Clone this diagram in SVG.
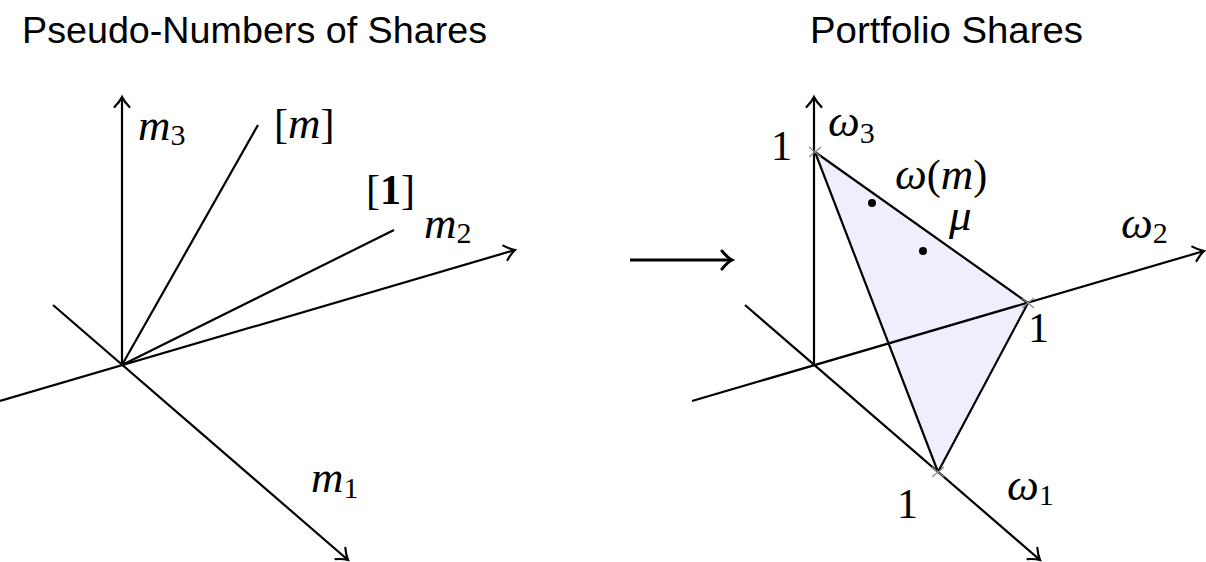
<svg xmlns="http://www.w3.org/2000/svg" width="1206" height="562" viewBox="0 0 1206 562">
<style>
.ax{stroke:#000;stroke-width:2.2;fill:none}
.ar{marker-end:url(#to)}
.title{font-family:"Liberation Sans",Arial,sans-serif;font-size:36px;fill:#000}
.mi{font-family:"Liberation Serif","Times New Roman",serif;font-style:italic;font-size:45px;fill:#000}
.mr{font-family:"Liberation Serif","Times New Roman",serif;font-size:42px;fill:#000}
.sub{font-family:"Liberation Serif","Times New Roman",serif;font-size:30px;fill:#000}
.tick{stroke:#888;stroke-width:1.2}
</style>
<defs>
<marker id="to" markerUnits="userSpaceOnUse" markerWidth="24" markerHeight="24" viewBox="-12 -12 24 24" refX="0" refY="0" orient="auto">
<path d="M-10,-7.5 C-5.5,-3 -2,-1 0,0 C-2,1 -5.5,3 -10,7.5" fill="none" stroke="#000" stroke-width="2.2" stroke-linecap="round"/>
</marker>
<marker id="to3" markerUnits="userSpaceOnUse" markerWidth="30" markerHeight="30" viewBox="-15 -15 30 30" refX="0" refY="0" orient="auto">
<path d="M-10,-9 C-6,-4 -2,-1 0,0 C-2,1 -6,4 -10,9" fill="none" stroke="#000" stroke-width="3" stroke-linecap="round"/>
</marker>
</defs>

<g id="title-left"><text class="title" x="22" y="43" textLength="465" lengthAdjust="spacingAndGlyphs">Pseudo-Numbers of Shares</text></g>
<g id="title-right"><text class="title" x="810" y="43" textLength="273" lengthAdjust="spacingAndGlyphs">Portfolio Shares</text></g>

<g id="connectors">
<line class="ax ar" x1="122" y1="365" x2="122" y2="97"/>
<line class="ax ar" x1="0" y1="401" x2="515" y2="250"/>
<line class="ax ar" x1="53" y1="305" x2="348" y2="560"/>
<line class="ax" x1="122" y1="365" x2="258" y2="125"/>
<line class="ax" x1="122" y1="365" x2="394" y2="230"/>
<line x1="630" y1="260" x2="732" y2="260" stroke="#000" stroke-width="3" marker-end="url(#to3)"/>
</g>

<g id="simplex">
<polygon points="815,152 1028,303 938,472" fill="#eeeefd" stroke="none"/>
</g>

<g id="right-axes">
<line class="ax ar" x1="814" y1="365" x2="814" y2="97"/>
<line class="ax ar" x1="692" y1="401" x2="1204" y2="251"/>
<line class="ax ar" x1="745" y1="305" x2="1040" y2="560"/>
</g>

<g id="simplex-edges">
<polygon points="815,152 1028,303 938,472" fill="none" stroke="#000" stroke-width="2.2" stroke-linejoin="round"/>
<path class="tick" d="M809,147 L821,157 M809,157 L821,147"/>
<path class="tick" d="M1022,298 L1034,308 M1022,308 L1034,298"/>
<path class="tick" d="M932,467 L944,477 M932,477 L944,467"/>
<circle cx="872" cy="203" r="4" fill="#000"/>
<circle cx="923" cy="251" r="4" fill="#000"/>
</g>

<g id="labels-left">
<text x="138" y="140"><tspan class="mi">m</tspan><tspan class="sub" dy="5">3</tspan></text>
<text x="274" y="138"><tspan class="mr">[</tspan><tspan class="mi">m</tspan><tspan class="mr">]</tspan></text>
<text x="366" y="204"><tspan class="mr">[</tspan><tspan class="mr" font-weight="bold">1</tspan><tspan class="mr">]</tspan></text>
<text x="424" y="238"><tspan class="mi">m</tspan><tspan class="sub" dy="5">2</tspan></text>
<text x="311" y="492"><tspan class="mi">m</tspan><tspan class="sub" dy="6">1</tspan></text>
</g>

<g id="labels-right">
<text class="mr" x="792" y="160" text-anchor="end">1</text>
<text x="828" y="136"><tspan class="mi">ω</tspan><tspan class="sub" dy="7">3</tspan></text>
<text x="895" y="189"><tspan class="mi">ω</tspan><tspan class="mr">(</tspan><tspan class="mi">m</tspan><tspan class="mr">)</tspan></text>
<text class="mi" x="949" y="230">μ</text>
<text x="1121" y="238"><tspan class="mi">ω</tspan><tspan class="sub" dy="5">2</tspan></text>
<text class="mr" x="1028" y="342">1</text>
<text class="mr" x="897" y="518">1</text>
<text x="1007" y="500"><tspan class="mi">ω</tspan><tspan class="sub" dy="5">1</tspan></text>
</g>
</svg>
